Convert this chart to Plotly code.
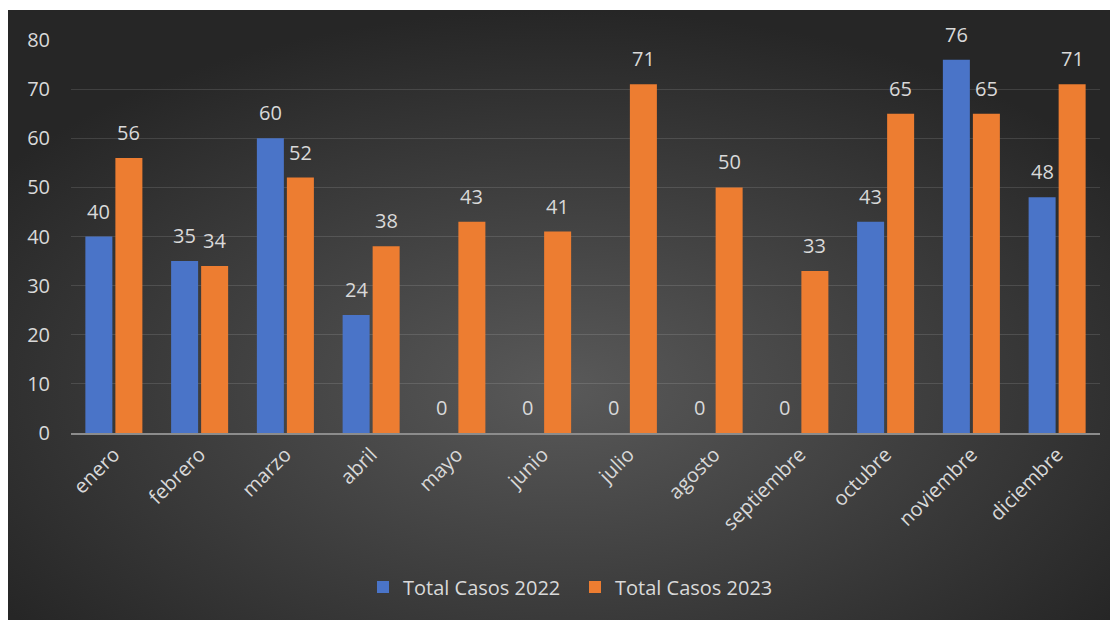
import base64
import plotly.graph_objects as go

months = ["enero", "febrero", "marzo", "abril", "mayo", "junio", "julio",
          "agosto", "septiembre", "octubre", "noviembre", "diciembre"]
casos_2022 = [40, 35, 60, 24, 0, 0, 0, 0, 0, 43, 76, 48]
casos_2023 = [56, 34, 52, 38, 43, 41, 71, 50, 33, 65, 65, 71]
y_ticks = [0, 10, 20, 30, 40, 50, 60, 70, 80]

# page has an 8px body margin, so the figure is 8px smaller and offset
W, H = 1110, 612
L, R, T, B = 63, 18, 32, 187
PW, PH = W - L - R, H - T - B
FONT = "Open Sans"
TXT = "#d9d9d9"
SLOT_PX = PW / len(months) * 0.35 / 2  # half of a bar slot inside the group

svg = f'''<svg xmlns="http://www.w3.org/2000/svg" width="{W}" height="{H}" viewBox="0 0 {W} {H}">
<defs><radialGradient id="g" cx="0.5" cy="0.62" r="0.62" gradientUnits="objectBoundingBox">
<stop offset="0" stop-color="#595959"/><stop offset="1" stop-color="#262626"/></radialGradient></defs>
<rect x="0" y="2" width="{W}" height="{H-2}" fill="url(#g)"/></svg>'''
src = "data:image/svg+xml;base64," + base64.b64encode(svg.encode()).decode()

fig = go.Figure()
fig.add_trace(go.Bar(
    x=months, y=casos_2022, name="Total Casos 2022",
    marker=dict(color="#4a74c8", line=dict(width=0)),
))
fig.add_trace(go.Bar(
    x=months, y=casos_2023, name="Total Casos 2023",
    marker=dict(color="#ed7d31", line=dict(width=0)),
))

annotations = []
for vals, sign in ((casos_2022, -1), (casos_2023, 1)):
    for m, v in zip(months, vals):
        annotations.append(dict(
            x=m, y=v, text=str(v), showarrow=False, xref="x", yref="y",
            xshift=sign * SLOT_PX, yshift=10, yanchor="bottom",
            font=dict(color=TXT, size=20, family=FONT),
        ))

fig.update_layout(
    width=W, height=H,
    paper_bgcolor="white", plot_bgcolor="rgba(0,0,0,0)",
    margin=dict(l=L, r=R, t=T, b=B),
    barmode="group", bargap=0.3, bargroupgap=0.1,
    font=dict(family=FONT, color=TXT, size=20),
    annotations=annotations,
    images=[dict(source=src, xref="paper", yref="paper",
                 x=-L / PW, y=1 + T / PH, sizex=W / PW, sizey=H / PH,
                 xanchor="left", yanchor="top", sizing="stretch", layer="below")],
    legend=dict(orientation="h", x=(355 - L) / PW, xanchor="left",
                y=-(579 - 425) / PH, yanchor="middle", entrywidth=167,
                font=dict(size=20, color=TXT, family=FONT),
                bgcolor="rgba(0,0,0,0)", itemwidth=30, traceorder="normal"),
)
fig.update_xaxes(
    tickangle=-45, tickfont=dict(size=20, color=TXT), showgrid=False,
    showline=True, linecolor="#8c8c8c", linewidth=2, ticks="", zeroline=False,
)
fig.update_yaxes(
    range=[0, 80], tickvals=y_ticks, tickfont=dict(size=20, color=TXT),
    showgrid=True, gridcolor="rgba(255,255,255,0.12)", gridwidth=1,
    zeroline=False, showline=False, ticks="", ticklabelstandoff=20,
)

fig.write_html("out.html")
